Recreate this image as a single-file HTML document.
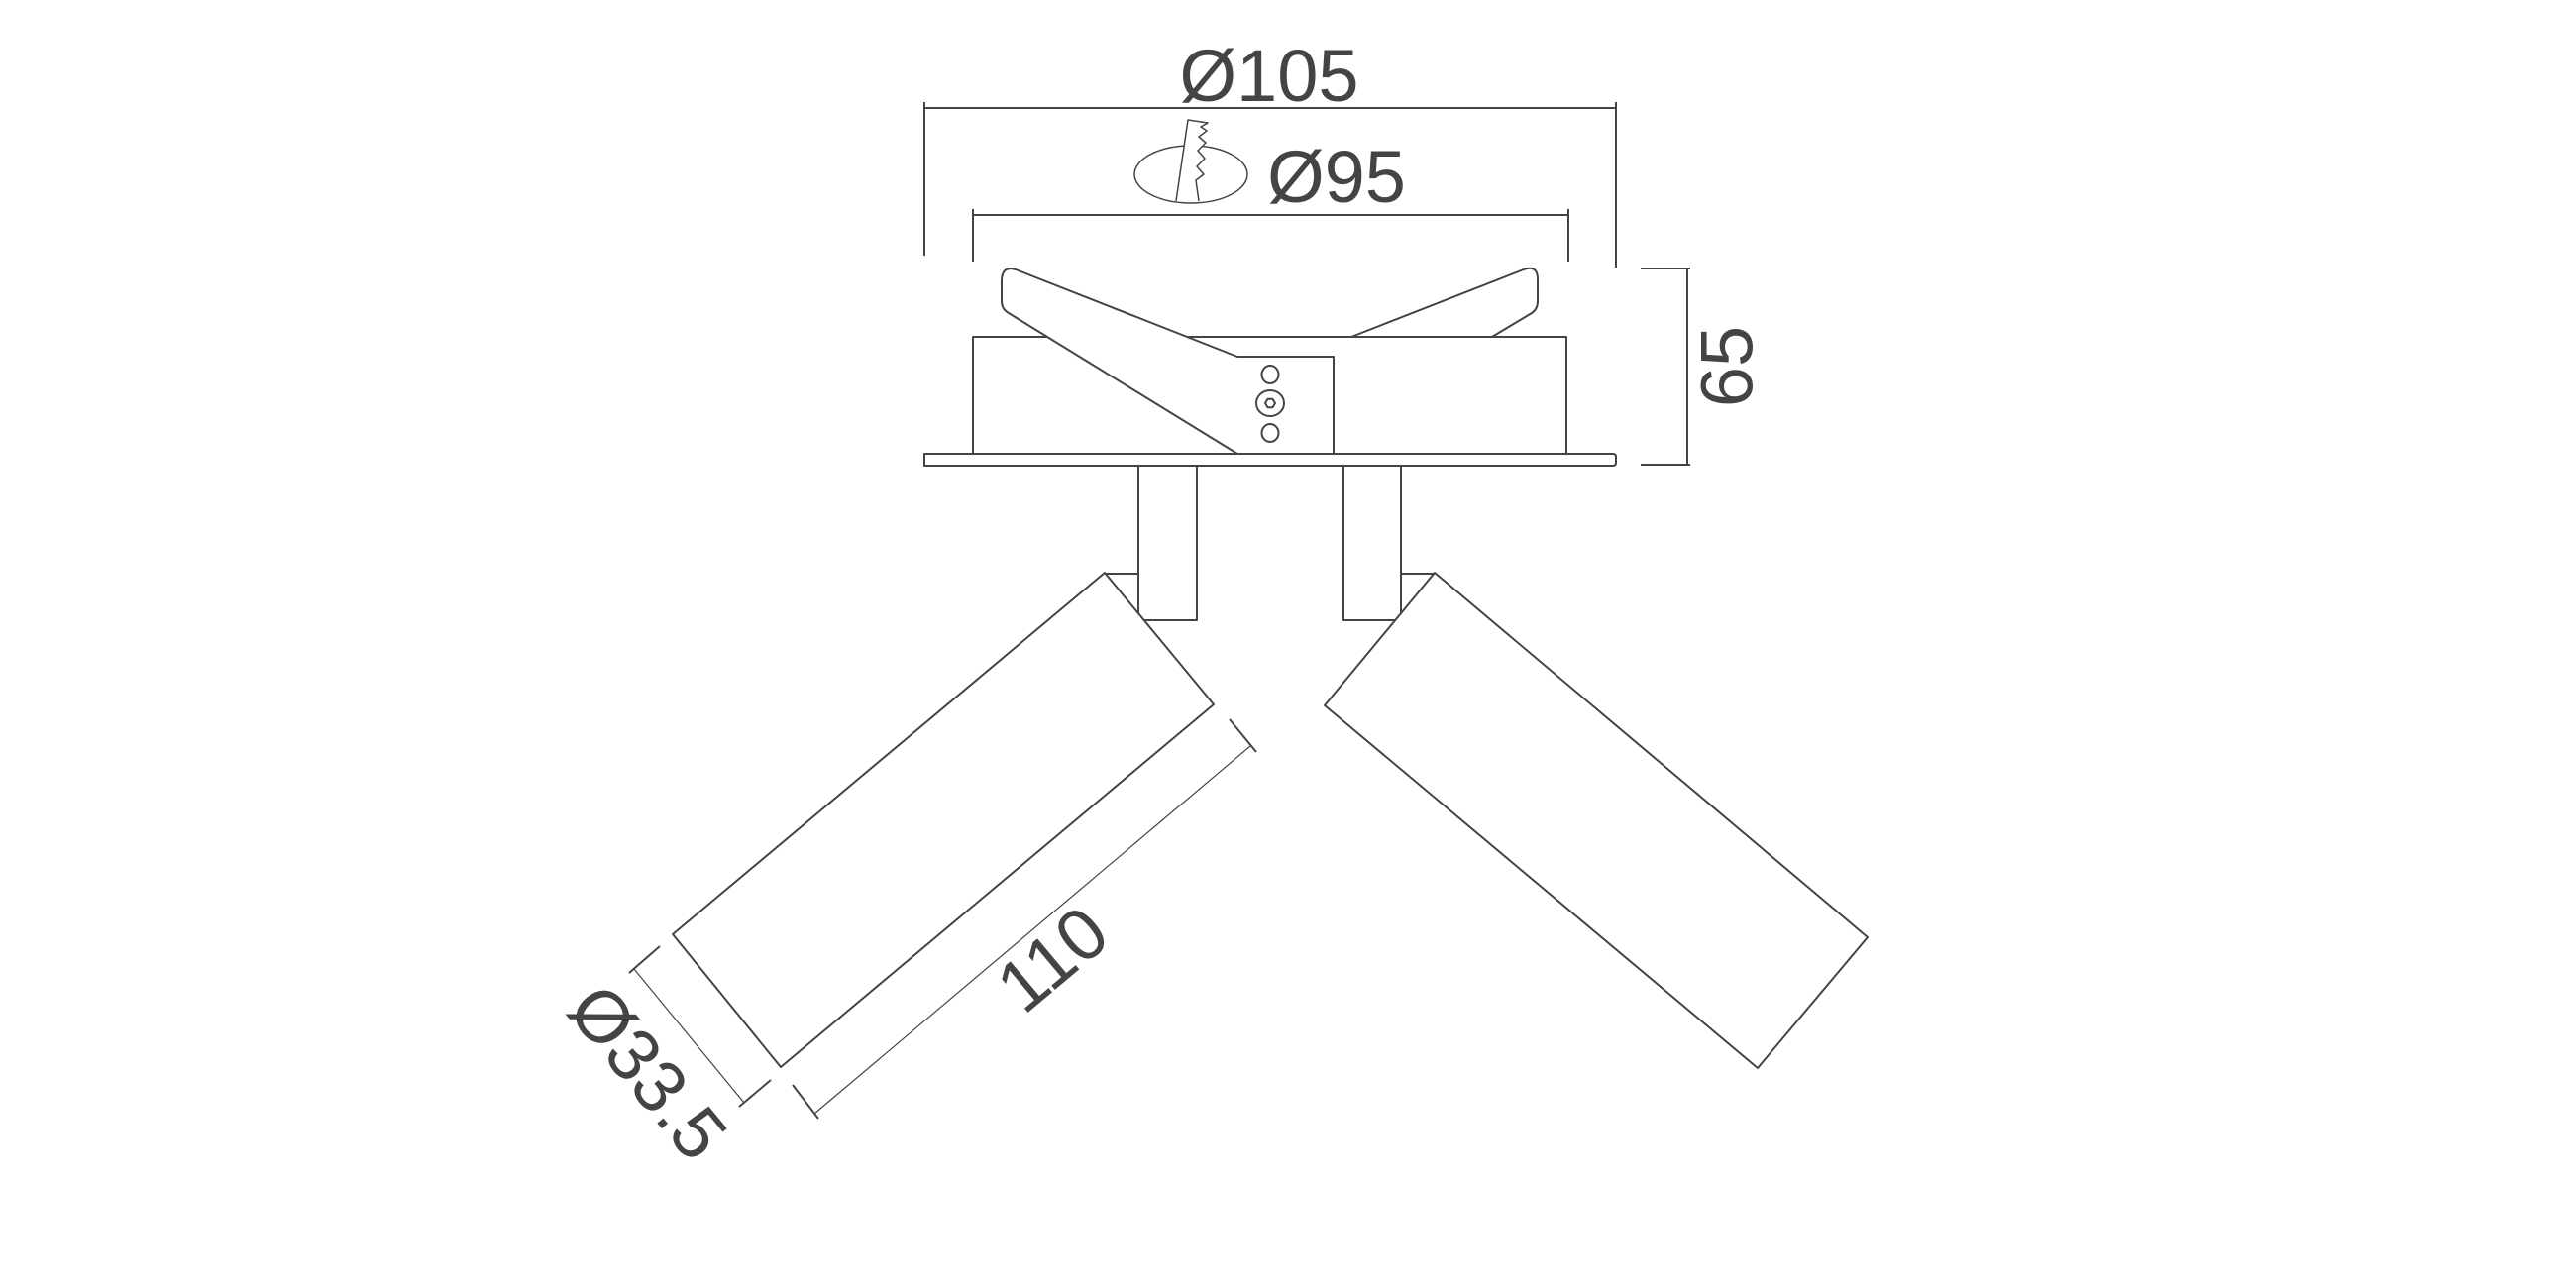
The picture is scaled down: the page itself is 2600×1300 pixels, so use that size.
<!DOCTYPE html>
<html><head><meta charset="utf-8"><style>html,body{margin:0;padding:0;background:#fff}svg{display:block}</style></head>
<body>
<svg width="2600" height="1300" viewBox="0 0 2600 1300" xmlns="http://www.w3.org/2000/svg">
<g fill="none" stroke="#444" stroke-width="2" stroke-linejoin="round">
  <!-- top dims -->
  <line x1="933" y1="103" x2="933" y2="258"/>
  <line x1="1631" y1="103" x2="1631" y2="270"/>
  <line x1="933" y1="109" x2="1631" y2="109"/>
  <line x1="982" y1="211" x2="982" y2="264"/>
  <line x1="1583" y1="211" x2="1583" y2="264"/>
  <line x1="982" y1="217" x2="1583" y2="217"/>
  <ellipse cx="1202" cy="176" rx="57" ry="29" stroke-width="1.5"/>
  <path d="M1187,203 L1199,121 L1219,124 L1212,128 L1218,132 L1210,138 L1217,144 L1209,152 L1216,160 L1208,168 L1215,176 L1207,182 L1210,203" fill="#fff" stroke-width="1.5"/>
  <!-- 65 dim -->
  <line x1="1656" y1="271" x2="1706" y2="271"/>
  <line x1="1656" y1="469" x2="1706" y2="469"/>
  <line x1="1703" y1="271" x2="1703" y2="469"/>
  <!-- housing -->
  <rect x="982" y="340" width="599" height="118"/>
  <path d="M1364,340 L1538,272 Q1552,267 1552,282 L1552,304 Q1552,312 1546,316 L1506,340 Z" fill="#fff"/>
  <path d="M1249,458 L1018,316 Q1011,312 1011,304 L1011,282 Q1012,268 1025,272 L1249,360 L1346,360 L1346,458 Z" fill="#fff"/>
  <ellipse cx="1282" cy="378" rx="8.5" ry="9"/>
  <ellipse cx="1282" cy="437" rx="8.5" ry="9"/>
  <ellipse cx="1282" cy="407" rx="14" ry="13"/>
  <polygon points="1287,407 1284.5,411.3 1279.5,411.3 1277,407 1279.5,402.7 1284.5,402.7"/>
  <path d="M933,458 L1628,458 Q1631,458 1631,461 L1631,467 Q1631,470 1628,470 L933,470 Z" fill="#fff"/>
  <!-- stems -->
  <rect x="1149" y="470" width="59" height="156"/>
  <rect x="1356" y="470" width="58" height="156"/>
  <line x1="1115" y1="579" x2="1149" y2="579"/>
  <line x1="1414" y1="579" x2="1448" y2="579"/>
  <!-- tubes -->
  <polygon points="1115,578 1225,711 788,1077 679,943" fill="#fff"/>
  <polygon points="1448,578 1337,712 1774,1078 1885,946" fill="#fff"/>
  <!-- 110 dim -->
  <line x1="1241" y1="726" x2="1268" y2="759"/>
  <line x1="800" y1="1095" x2="826" y2="1129"/>
  <line x1="1262" y1="753" x2="822" y2="1124" stroke-width="1.2"/>
  <!-- 33.5 dim -->
  <line x1="666" y1="955" x2="635" y2="982"/>
  <line x1="778" y1="1090" x2="746" y2="1117"/>
  <line x1="640" y1="978" x2="751" y2="1113" stroke-width="1.2"/>
</g>
<g fill="#444" font-family="'Liberation Sans', sans-serif" font-size="74" text-anchor="middle">
  <text x="1281" y="102">Ø105</text>
  <text x="1349" y="204">Ø95</text>
  <text x="1743" y="370" transform="rotate(-90 1743 370)" dominant-baseline="central">65</text>
  <text x="1062" y="968" transform="rotate(-40 1062 968)" dominant-baseline="central">110</text>
  <text x="654" y="1082" transform="rotate(50.6 654 1082)" dominant-baseline="central">Ø33.5</text>
</g>
</svg>
</body></html>
